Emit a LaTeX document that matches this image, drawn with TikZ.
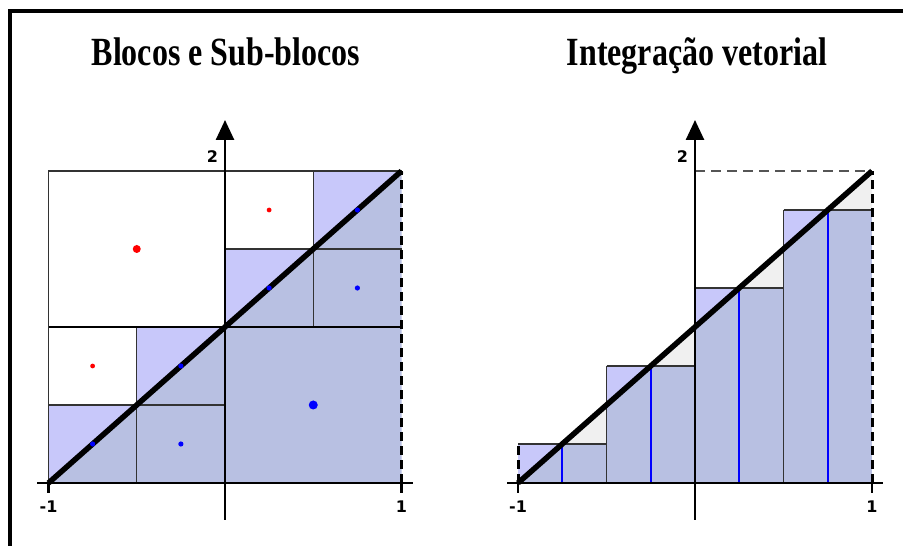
\documentclass[tikz,border=0pt]{standalone}
\usepackage{fontspec}
\newfontfamily\titlefont{Liberation Serif}
\newfontfamily\tickfont{DejaVu Sans}
\usetikzlibrary{arrows.meta, calc}
\definecolor{blocklight}{HTML}{C8C8FA}
\definecolor{blockdark}{HTML}{B8C0E2}
\definecolor{gapgray}{HTML}{F0F0F0}
\definecolor{edgegray}{HTML}{333333}
\definecolor{dashgray}{HTML}{555555}
\tikzset{
  titlelbl/.style  = {font=\titlefont\bfseries\fontsize{40}{40}\selectfont, inner sep=0pt, xscale=0.8, anchor=base},
  ticklbl/.style   = {font=\tickfont\bfseries\fontsize{16}{16}\selectfont, inner sep=0pt},
  blockline/.style = {draw=edgegray, line width=1.4pt},
  majorline/.style = {draw=black, line width=2.6pt},
  diagline/.style  = {draw=black, line width=5.5pt},
  edgedash/.style  = {draw=black, line width=3pt, dash pattern=on 9pt off 5pt},
  topdash/.style   = {draw=dashgray, line width=2pt, dash pattern=on 10pt off 6pt},
  axisline/.style  = {draw=black, line width=2.6pt},
  yaxis/.style     = {axisline, -{Triangle[length=20pt, width=18pt]}},
  midline/.style   = {draw=blue, line width=2.4pt}
}

\begin{document}
\begin{tikzpicture}[x=1pt, y=1pt]

    \useasboundingbox[fill=white] (0,0) rectangle (903,546);

    % --- Frame (left and top edges) -----------------------------------------
    \draw[line width=4pt, line join=miter] (10,0) |- (903,535);

    % --- Titles -------------------------------------------------------------
    \node[titlelbl] (titleblocks) at (226,480) {Blocos e Sub-blocos};
    \node[titlelbl] (titlevec)    at (697,480) {Integração vetorial};

    % --- Left panel: blocks and sub-blocks ----------------------------------
    \begin{scope}[shift={(225,63)}, x=176.5pt, y=156pt]
      \fill[blockdark] (-1,0) -- (1,0) -- (1,2) -- cycle;
      \foreach \a in {-1,-0.5,0,0.5}
        \fill[blocklight] (\a,\a+1) -- (\a,\a+1.5) -- (\a+0.5,\a+1.5) -- cycle;

      \draw[blockline] (-1,0) -- (-1,2) -- (1,2);
      \draw[blockline] (0.5,1) -- (0.5,2);
      \draw[blockline] (0,1.5) -- (1,1.5);
      \draw[blockline] (-0.5,0) -- (-0.5,1);
      \draw[blockline] (-1,0.5) -- (0,0.5);
      \draw[majorline] (-1,1) -- (1,1);
      \draw[edgedash]  (1,0) -- (1,2);

      \draw[diagline] (-1,0) -- (1,2);

      % sample points
      \fill[red]  (-0.5,1.5)  circle[radius=4pt];
      \fill[red]  (0.25,1.75) circle[radius=2.4pt];
      \fill[red]  (-0.75,0.75) circle[radius=2.4pt];
      \foreach \p in {(0.75,1.75),(0.25,1.25),(0.75,1.25),(-0.25,0.75),(-0.75,0.25),(-0.25,0.25)}
        \fill[blue] \p circle[radius=2.6pt];
      \fill[blue] (0.5,0.5) circle[radius=4.5pt];

      % axes
      \draw[axisline] (-1.065,0) -- (1.065,0);
      \draw[yaxis] (0,-0.237) -- (0,2.327);
      \draw[axisline] (-1,0) -- ++(0,-10pt);
      \draw[axisline] (1,0) -- ++(0,-10pt);

      \node[ticklbl] (lxmin) at ($(-1,0)+(0,-24pt)$) {-1};
      \node[ticklbl] (lxmax) at ($(1,0)+(0,-24pt)$) {1};
      \node[ticklbl] (lytop) at ($(0,2)+(-12.5pt,14pt)$) {2};
    \end{scope}

    % --- Right panel: midpoint bars -----------------------------------------
    \begin{scope}[shift={(695,63)}, x=177pt, y=156pt]
      \foreach \a in {-1,-0.5,0,0.5} {
        \fill[blockdark]  (\a,0) rectangle (\a+0.5,\a+1.25);
        \fill[blocklight] (\a,\a+1) -- (\a,\a+1.25) -- (\a+0.25,\a+1.25) -- cycle;
        \fill[gapgray]    (\a+0.25,\a+1.25) -- (\a+0.5,\a+1.25) -- (\a+0.5,\a+1.5) -- cycle;
        \draw[blockline]  (\a,\a+1.25) -- (\a+0.5,\a+1.25);
        \draw[midline]    (\a+0.25,0) -- (\a+0.25,\a+1.25);
      }
      \foreach \a in {-0.5,0,0.5}
        \draw[blockline] (\a,0) -- (\a,\a+1.25);

      \draw[edgedash] (-1,0) -- (-1,0.25);
      \draw[edgedash] (1,0) -- (1,2);
      \draw[topdash]  (0,2) -- (1,2);

      \draw[diagline] (-1,0) -- (1,2);

      % axes
      \draw[axisline] (-1.062,0) -- (1.062,0);
      \draw[yaxis] (0,-0.237) -- (0,2.327);
      \draw[axisline] (-1,0) -- ++(0,-10pt);
      \draw[axisline] (1,0) -- ++(0,-10pt);

      \node[ticklbl] (rxmin) at ($(-1,0)+(0,-24pt)$) {-1};
      \node[ticklbl] (rxmax) at ($(1,0)+(0,-24pt)$) {1};
      \node[ticklbl] (rytop) at ($(0,2)+(-12.5pt,14pt)$) {2};
    \end{scope}

\end{tikzpicture}
\end{document}
